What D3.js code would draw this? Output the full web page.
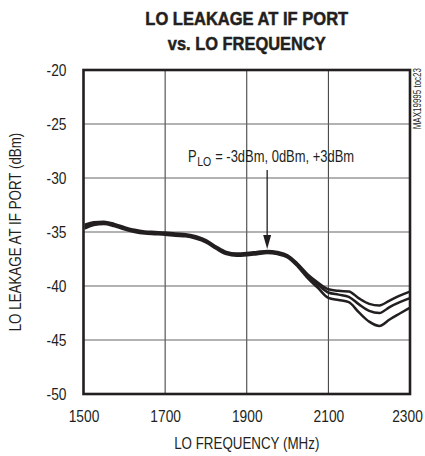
<!DOCTYPE html>
<html>
<head>
<meta charset="utf-8">
<script src="https://cdn.jsdelivr.net/npm/d3@7"></script>
<style>
  html, body { margin: 0; padding: 0; background: #fff; }
  svg text { font-family: "Liberation Sans", Arial, sans-serif; fill: #231f20; }
</style>
</head>
<body>
<svg id="chart" width="425" height="456"></svg>
<script>
// LO leakage measured at the IF port, one curve per LO drive level
const freqMHz = [1505, 1525, 1550, 1575, 1600, 1625, 1650, 1675, 1700, 1725, 1750, 1775,
                 1800, 1825, 1850, 1875, 1900, 1925, 1950, 1975, 2000, 2025, 2050, 2075,
                 2100, 2125, 2150, 2175, 2200, 2225, 2250, 2275, 2298];

const leakPlus3 = [-34.30, -34.10, -34.05, -34.25, -34.55, -34.80, -34.95, -35.00, -35.05, -35.15,
                   -35.20, -35.40, -35.75, -36.35, -36.85, -37.00, -36.95, -36.85, -36.75, -36.85,
                   -37.15, -37.95, -38.95, -39.70, -40.30, -40.45, -40.50, -41.15, -41.65, -41.80,
                   -41.35, -40.90, -40.55];
const leak0 = [-34.45, -34.22, -34.15, -34.35, -34.65, -34.90, -35.05, -35.10, -35.15, -35.25,
               -35.30, -35.50, -35.85, -36.45, -36.95, -37.10, -37.05, -36.95, -36.85, -36.95,
               -37.25, -38.05, -39.10, -39.90, -40.60, -40.80, -41.00, -41.70, -42.30, -42.50,
               -41.95, -41.50, -41.15];
const leakMinus3 = [-34.65, -34.35, -34.25, -34.45, -34.75, -35.00, -35.15, -35.20, -35.25, -35.35,
                    -35.40, -35.60, -35.95, -36.55, -37.05, -37.20, -37.15, -37.05, -36.95, -37.05,
                    -37.35, -38.20, -39.30, -40.20, -41.10, -41.30, -41.50, -42.45, -43.30, -43.70,
                    -43.10, -42.55, -42.05];

const xTicks = [1500, 1700, 1900, 2100, 2300];
const yTicks = [-20, -25, -30, -35, -40, -45, -50];

const titleLines = ["LO LEAKAGE AT IF PORT", "vs. LO FREQUENCY"];
const xTitle = "LO FREQUENCY (MHz)";
const yTitle = "LO LEAKAGE AT IF PORT (dBm)";
const tocLabel = "MAX19995 toc23";
const arrowFreq = 1950;

const svg = d3.select("#chart");
const m = { left: 83.5, right: 410, top: 70, bottom: 394 };

const x = d3.scaleLinear().domain([1500, 2300]).range([m.left, m.right]);
const y = d3.scaleLinear().domain([-50, -20]).range([m.bottom, m.top]);

// squeeze a text horizontally (around its anchor point) to imitate a condensed face
function condense(sel, factor) {
  sel.each(function () {
    const t = d3.select(this);
    const tx = +t.attr("x") || 0, ty = +t.attr("y") || 0;
    const base = t.attr("transform") || "";
    t.attr("x", 0).attr("y", 0)
     .attr("transform", `${base} translate(${tx},${ty}) scale(${factor},1)`);
  });
}

// grid
const grid = svg.append("g");
grid.selectAll("line.v").data(xTicks.slice(1, -1)).join("line")
  .attr("x1", d => x(d)).attr("x2", d => x(d))
  .attr("y1", m.top).attr("y2", m.bottom)
  .attr("stroke", "#333").attr("stroke-width", 1);
grid.selectAll("line.h").data(yTicks.slice(1, -1)).join("line")
  .attr("x1", m.left).attr("x2", m.right)
  .attr("y1", d => y(d)).attr("y2", d => y(d))
  .attr("stroke", "#666").attr("stroke-width", 1.1);

// tick labels through d3 axes, with the domain path and tick marks removed
const xAxis = svg.append("g").attr("transform", `translate(0,${m.bottom})`)
  .call(d3.axisBottom(x).tickValues(xTicks).tickSize(0).tickPadding(16).tickFormat(d3.format("d")));
const yAxis = svg.append("g").attr("transform", `translate(${m.left - 1},0)`)
  .call(d3.axisLeft(y).tickValues(yTicks).tickSize(0).tickPadding(16).tickFormat(d => String(d).replace("−", "-")));
// keep the last frequency label inside the page
xAxis.selectAll(".tick").filter(d => d === 2300).select("text").attr("x", -3);
[xAxis, yAxis].forEach(a => {
  a.select(".domain").remove();
  a.selectAll("text").attr("font-size", 17).attr("fill", "#231f20")
    .style("font-family", '"Liberation Sans", Arial, sans-serif')
    .call(condense, 0.81);
});

// curves
const line = d3.line().x((d, i) => x(freqMHz[i])).y(d => y(d)).curve(d3.curveMonotoneX);
svg.append("g").selectAll("path").data([leakPlus3, leak0, leakMinus3]).join("path")
  .attr("d", line).attr("fill", "none").attr("stroke", "#231f20")
  .attr("stroke-width", 2.5).attr("stroke-linejoin", "round").attr("stroke-linecap", "round");

// frame
svg.append("rect").attr("x", m.left).attr("y", m.top)
  .attr("width", m.right - m.left).attr("height", m.bottom - m.top)
  .attr("fill", "none").attr("stroke", "#231f20").attr("stroke-width", 2.6);

// annotation with arrow pointing to the curves
const ax = x(arrowFreq);
const tipY = y(leakPlus3[freqMHz.indexOf(arrowFreq)]) - 2;
svg.append("line").attr("x1", ax).attr("x2", ax).attr("y1", 170).attr("y2", tipY - 12)
  .attr("stroke", "#231f20").attr("stroke-width", 1.3);
svg.append("path")
  .attr("d", `M${ax - 4},${tipY - 14} L${ax + 4},${tipY - 14} L${ax},${tipY} Z`)
  .attr("fill", "#231f20");

// P with subscript LO, then the drive levels
const noteX = 188;
const noteP = svg.append("text").attr("x", noteX).attr("y", 162).attr("font-size", 16).text("P");
const pW = noteP.node().getComputedTextLength() * 0.81;
noteP.call(condense, 0.81);
const noteSub = svg.append("text").attr("x", noteX + pW + 0.5).attr("y", 166).attr("font-size", 13).text("LO");
const subW = noteSub.node().getComputedTextLength() * 0.81;
noteSub.call(condense, 0.81);
svg.append("text").attr("x", noteX + pW + subW + 4.5).attr("y", 162).attr("font-size", 16)
  .text("= -3dBm, 0dBm, +3dBm")
  .call(condense, 0.81);

// titles, squeezed to their set widths
const titleW = [203, 158];
svg.append("g").selectAll("text").data(titleLines).join("text")
  .attr("x", (m.left + m.right) / 2).attr("y", (d, i) => 25 + i * 25)
  .attr("text-anchor", "middle").attr("font-size", 18.5).attr("font-weight", "bold")
  .attr("stroke", "#231f20").attr("stroke-width", 0.5)
  .text(d => d)
  .each(function (d, i) {
    const f = titleW[i] / this.getComputedTextLength();
    d3.select(this).call(condense, f);
  });

svg.append("text").attr("x", (m.left + m.right) / 2).attr("y", 449)
  .attr("text-anchor", "middle").attr("font-size", 16.5).text(xTitle)
  .call(condense, 0.81);

svg.append("text").attr("transform", `translate(21,${(m.top + m.bottom) / 2}) rotate(-90)`)
  .attr("text-anchor", "middle").attr("font-size", 16.5).text(yTitle)
  .call(condense, 0.81);

svg.append("text").attr("transform", `translate(421,68) rotate(-90)`)
  .attr("text-anchor", "end").attr("font-size", 10).text(tocLabel)
  .call(condense, 0.8);
</script>
</body>
</html>
